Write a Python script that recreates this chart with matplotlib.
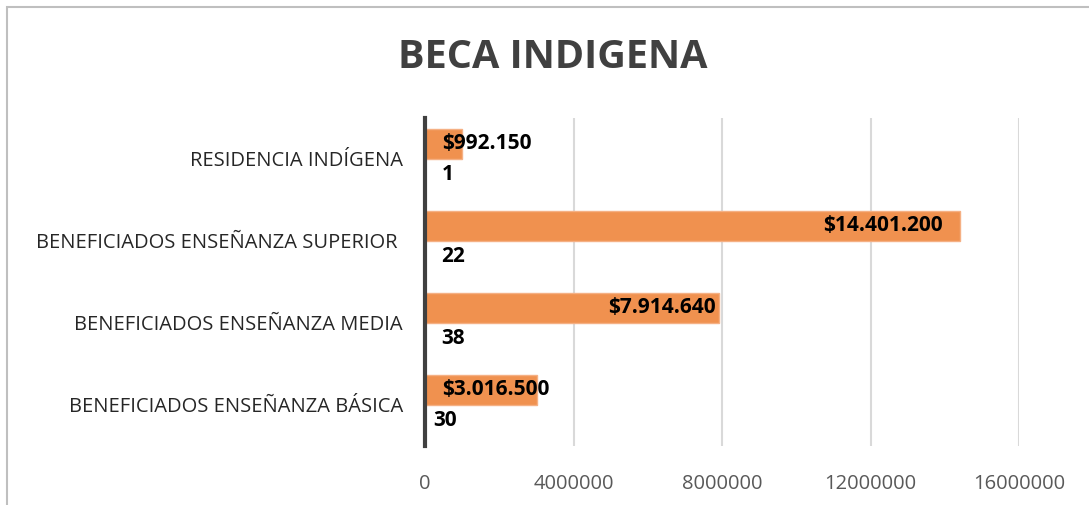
import matplotlib
matplotlib.use("Agg")
import matplotlib.pyplot as plt
from matplotlib.patches import Rectangle
import numpy as np

categories = ["BENEFICIADOS ENSEÑANZA BÁSICA", "BENEFICIADOS ENSEÑANZA MEDIA",
              "BENEFICIADOS ENSEÑANZA SUPERIOR ", "RESIDENCIA INDÍGENA"]
beneficiados = [30, 38, 22, 1]
montos = [3016500, 7914640, 14401200, 992150]
monto_labels = ["$3.016.500", "$7.914.640", "$14.401.200", "$992.150"]
xticks = [0, 4000000, 8000000, 12000000, 16000000]

plt.rcParams['font.family'] = ['Open Sans', 'DejaVu Sans']

fig = plt.figure(figsize=(10.89, 5.05), dpi=100)
W, H = 1089, 505
ax = fig.add_axes([425 / W, 1 - 446 / H, (1019 - 425) / W, (446 - 118) / H])

y = np.arange(len(categories))
bw = 0.37
off = 0.185
ax.barh(y + off, montos, height=bw, color='#F0914F', edgecolor='#F5B084', linewidth=1, zorder=3)
ax.barh(y - off, beneficiados, height=bw, color='#4472C4', zorder=3)

ax.set_xlim(0, 16000000)
ax.set_ylim(-0.5, len(categories) - 0.5)
ax.set_xticks(xticks)
ax.set_xticklabels([str(v) for v in xticks])
ax.set_yticks(y)
ax.set_yticklabels(categories)
ax.tick_params(axis='x', length=0, labelsize=14.5, labelcolor='#595959', pad=20)
ax.tick_params(axis='y', length=0, labelsize=14.5, labelcolor='#262626', pad=16)
ax.grid(axis='x', color='#D9D9D9', linewidth=1.5, zorder=0)
for s in ['top', 'right', 'bottom']:
    ax.spines[s].set_visible(False)
ax.spines['left'].set_color('#404040')
ax.spines['left'].set_linewidth(3)
ax.spines['left'].set_zorder(5)

# label offsets in points (styling)
inside_dx = {7914640: -2, 14401200: -12}
for i, (v, lab) in enumerate(zip(montos, monto_labels)):
    if v < 5000000:
        ax.annotate(lab, xy=(0, y[i] + off), xytext=(12, 0), textcoords='offset points',
                    ha='left', va='center', fontsize=15, fontweight='bold', color='black', zorder=6)
    else:
        ax.annotate(lab, xy=(v, y[i] + off), xytext=(inside_dx.get(v, -8), 0), textcoords='offset points',
                    ha='right', va='center', fontsize=15, fontweight='bold', color='black', zorder=6)
for i, v in enumerate(beneficiados):
    dx = 6 if v == 30 else 12
    ax.annotate(str(v), xy=(0, y[i] - off), xytext=(dx, 0), textcoords='offset points',
                ha='left', va='center', fontsize=15, fontweight='bold', color='black', zorder=6)

fig.text(553 / W, 1 - 58 / H, "BECA INDIGENA", ha='center', va='center',
         fontsize=28.5, fontweight='bold', color='#404040')

fig.patches.append(Rectangle((7 / W, -0.1), 1.2, 1 - 7 / H + 0.1, transform=fig.transFigure,
                             fill=False, edgecolor='#BFBFBF', linewidth=1.5))

fig.savefig("out.png", dpi=100, facecolor='white')
